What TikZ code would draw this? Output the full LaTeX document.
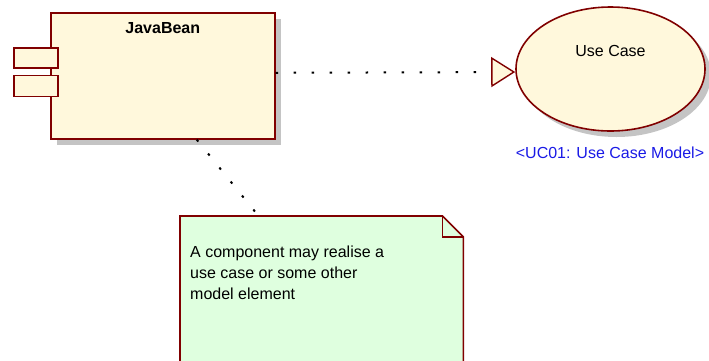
\documentclass[tikz,border=0pt]{standalone}
\usepackage{fontspec}
\setmainfont{Liberation Sans}
\usetikzlibrary{positioning,arrows.meta,shapes.geometric,shadows}
\definecolor{edge}{HTML}{800000}
\definecolor{cream}{HTML}{FFF8DC}
\definecolor{mint}{HTML}{DFFFDF}
\definecolor{shade}{HTML}{C4C4C4}
\definecolor{tag}{HTML}{1A1AE6}

\begin{document}
\begin{tikzpicture}[x=1pt,y=-1pt,font=\fontsize{16}{21}\selectfont]
\tikzstyle{box}=[draw=edge,fill=cream,line width=1.6pt,inner sep=0pt]
\tikzstyle{sh}=[drop shadow={shadow xshift=6pt,shadow yshift=-6pt,fill=shade,opacity=1}]
\tikzstyle{dots}=[black,line width=2pt,dash pattern=on 2.5pt off 15.5pt]
\useasboundingbox (0,0) rectangle (709,360);
\node[box,sh,minimum width=224pt,minimum height=126pt,anchor=north west] (bean) at (50,12) {};
\node[font=\fontsize{16}{21}\selectfont\bfseries,anchor=base] (beanname) at ([yshift=-21pt]bean.north) {JavaBean};
\node[box,minimum width=44pt,minimum height=20pt] (p1) at (36,58) {};
\node[box,minimum width=44pt,minimum height=21pt,below=6pt of p1] (p2) {};
\node[box,sh,ellipse,minimum width=189pt,minimum height=124pt] (uc) at (610.5,69) {};
\node[anchor=base] (ucname) at (610.5,56) {Use Case};
\node[tag,anchor=base] (ucpath) at (610,158) {<UC01: Use Case Model>};
\draw[dots,-{Triangle[length=24pt,width=30pt,line width=1.4pt,color=edge,fill=cream]}]
  ([yshift=3pt]bean.east) -- ([yshift=-3pt]uc.west);
\node[minimum width=283pt,minimum height=180pt,anchor=north west,inner sep=0pt] (note) at (180,216) {};
\draw[draw=edge,fill=mint,line width=1.6pt] (note.north west) -- ([xshift=-21pt]note.north east)
  -- ([yshift=-21pt]note.north east) -- (note.south east) -- (note.south west) -- cycle;
\draw[edge,line width=1.6pt] ([xshift=-21pt]note.north east) -- ([xshift=-21pt,yshift=-21pt]note.north east)
  -- ([yshift=-21pt]note.north east);
\node[anchor=north west,align=left,inner sep=0pt] (notetext) at (190,246) {A component may realise a\\use case or some other\\model element};
\draw[dots] (bean.-62) -- (note.125);
\end{tikzpicture}
\end{document}
